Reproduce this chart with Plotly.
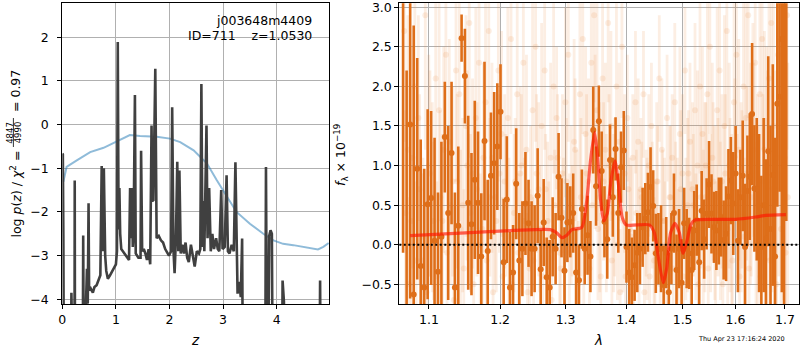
import numpy as np
import plotly.graph_objects as go

# ---------------- left panel: redshift probability ----------------
z_pz = [0.000, 0.010, 0.020, 0.035, 0.150, 0.170, 0.190, 0.225, 0.232, 0.240,
        0.375, 0.390, 0.400, 0.410, 0.440, 0.460, 0.475, 0.490, 0.500, 0.530,
        0.570, 0.600, 0.640, 0.680, 0.710, 0.735, 0.750, 0.775, 0.800, 0.820,
        0.850, 0.890, 0.930, 0.970, 1.000, 1.020, 1.035, 1.050, 1.065, 1.080,
        1.100, 1.130, 1.160, 1.190, 1.220, 1.245, 1.265, 1.280, 1.300, 1.315,
        1.330, 1.355, 1.370, 1.390, 1.420, 1.460, 1.470, 1.490, 1.520, 1.550,
        1.580, 1.610, 1.640, 1.665, 1.680, 1.700, 1.735, 1.760, 1.800, 1.840,
        1.880, 1.920, 1.960, 1.990, 2.030, 2.050, 2.075, 2.095, 2.120, 2.145,
        2.165, 2.185, 2.210, 2.240, 2.270, 2.300, 2.330, 2.360, 2.400, 2.440,
        2.470, 2.510, 2.550, 2.575, 2.595, 2.615, 2.630, 2.650, 2.690, 2.710,
        2.740, 2.770, 2.800, 2.830, 2.870, 2.900, 2.930, 2.965, 2.990, 3.030,
        3.065, 3.090, 3.120, 3.160, 3.200, 3.230, 3.255, 3.270, 3.300, 3.330,
        3.355, 3.380, 3.780, 3.800, 3.830, 3.860, 3.885, 3.910, 3.935, 4.090,
        4.110, 4.135, 4.160, 4.790, 4.810, 4.830, 4.970]
log_pz = [-0.66, -0.68, -2.60, -8.0, -8.0, -3.85, -8.0, -8.0, -1.28, -8.0,
          -8.0, -2.54, -2.85, -8.0, -4.2, -3.30, -4.1, -1.80, -3.80, -3.75,
          -3.85, -3.72, -3.68, -3.55, -3.45, -0.95, -2.90, -1.00, -3.00, -3.35,
          -3.53, -3.45, -3.35, -3.25, -3.20, -2.90, 1.89, -2.40, -1.45, -2.50,
          -2.85, -2.90, -2.95, -3.00, -3.05, -3.10, -1.45, -2.60, -1.45, -2.80,
          -2.50, 0.68, -2.95, -3.00, -3.05, -3.05, -0.60, -2.90, -2.85, -2.95,
          -3.10, -2.85, -3.20, -0.02, -1.75, -1.73, 1.28, -2.60, -2.55, -2.65,
          -2.70, -2.85, -2.95, -3.00, -2.90, 0.40, -2.90, -3.40, -2.60, -0.85,
          -2.90, -1.05, -2.95, -2.75, -2.95, -2.70, -3.05, -3.15, -2.75, -3.10,
          -3.25, -2.90, -2.95, -2.85, 0.93, -2.80, -1.75, -2.90, -0.02, -2.60,
          -1.45, -2.90, -2.50, -2.85, -2.60, -2.85, -2.90, -1.50, -2.85, -2.80,
          -1.16, -2.90, -2.95, -2.75, -2.90, -0.86, -3.00, -3.87, -3.60, -3.95,
          -2.61, -8.0, -8.0, -0.97, -8.0, -2.55, -2.42, -2.50, -8.0, -8.0,
          -3.57, -4.05, -8.0, -8.0, -3.57, -8.0, -8.0]

z_chi = [0.02, 0.08, 0.27, 0.52, 0.77, 0.98, 1.14, 1.26, 1.45, 1.76,
         2.01, 2.20, 2.45, 2.70, 2.88, 3.07, 3.25, 3.50, 3.75, 3.94,
         4.12, 4.31, 4.49, 4.71, 4.77, 4.87, 4.97]
chi_curve = [-1.31, -0.97, -0.82, -0.63, -0.53, -0.40, -0.30, -0.24, -0.26, -0.28,
             -0.32, -0.40, -0.59, -0.89, -1.27, -1.66, -2.00, -2.27, -2.50, -2.65,
             -2.73, -2.76, -2.80, -2.84, -2.86, -2.80, -2.71]

# ---------------- right panel: 1D spectrum ----------------
LAM0, DLAM, NPIX = 1.0657, 0.00465, 138

solid_flux = [
    3.40, -0.90,
    1.52, -0.63, 0.96, -0.27, -0.54, 0.51, 0.59, 0.05, -0.34, 0.10,
    1.36, 0.40, 1.16, -0.54, 0.24, 2.61, 2.13, 0.53, 0.26, 0.82,
    0.53, -0.15, 1.31, -0.08, 0.87, 1.03, 1.24, 1.68, -0.22, 0.57,
    -0.54, -0.35, 0.77, -0.20, -0.05, 0.52, 0.27, -0.05, -0.05, 0.62,
    -0.31, 0.28, -0.41, -0.54, 0.10, -0.05, 0.86, 0.34, -0.33, 0.28,
    0.29, 0.40, -0.35, -0.45, 0.45, -0.05, 0.12, -0.15, 1.45, 0.74,
    1.56, 0.93, 0.29, 0.07, 1.07, 0.60, 1.21, 0.40, 0.98, 1.19,
    -0.03, -0.35, -0.41, -0.26, -0.10, -0.05, 0.22, 0.33, 0.41, 0.73,
    0.49, -0.11, -0.05, -0.05, -0.51, -0.10, -0.60, -0.05, 0.40, -0.32,
    -0.05, -0.48, 0.27, -0.05, -0.11, -0.32, 0.18, 0.31, -0.22, 0.43,
    0.07, 0.39, 0.76, 0.39, 0.22, 0.18, 0.30, 0.35, 0.06, 0.14,
    0.61, 0.81, 0.52, 0.90, 0.05, 0.60, 0.87, -0.03, 0.68, 0.86,
    1.65, 0.71, 0.70, 0.40, -0.03, 0.50, 0.08, 1.18, 0.20, 0.88,
    -0.15, 1.78, 1.87, 2.60, 1.00, 3.60]
solid_err = [
    3.5, 3.1,
    2.2, 3.4, 1.4, 1.6, 1.5, 1.2, 1.1, 1.3, 1.0, 1.2,
    0.7, 1.1, 0.9, 1.2, 1.0, 0.3, 0.6, 1.1, 0.9, 1.0,
    0.9, 0.8, 1.0, 0.9, 0.8, 0.9, 0.8, 0.6, 0.8, 0.8,
    0.7, 0.6, 0.7, 0.6, 0.6, 0.65, 0.55, 0.6, 0.55, 0.6,
    0.5, 0.55, 0.5, 0.6, 0.5, 0.45, 0.55, 0.5, 0.55, 0.5,
    0.45, 0.5, 0.55, 0.45, 0.5, 0.45, 0.5, 0.45, 0.55, 0.5,
    0.45, 0.5, 0.45, 0.5, 0.45, 0.5, 0.4, 0.5, 0.45, 0.5,
    0.45, 0.55, 0.5, 0.45, 0.5, 0.45, 0.5, 0.45, 0.5, 0.5,
    0.45, 0.5, 0.45, 0.55, 0.5, 0.45, 0.5, 0.45, 0.5, 0.45,
    0.5, 0.55, 0.45, 0.5, 0.45, 0.55, 0.5, 0.45, 0.55, 0.5,
    0.5, 0.45, 0.55, 0.5, 0.45, 0.5, 0.55, 0.5, 0.5, 0.6,
    0.6, 0.55, 0.65, 0.6, 0.65, 0.6, 0.7, 0.8, 0.7, 0.8,
    0.9, 0.8, 0.9, 1.0, 0.9, 1.1, 1.0, 1.2, 1.3, 1.4,
    1.5, 1.3, 1.2, 3.2, 3.0, 3.3]

faintA_flux = [
    2.7, 1.2, 0.3, 2.0, 1.6, -0.2, 2.9, 1.0, 0.6, 2.1,
    1.7, 0.3, 2.4, 1.3, 0.8, 2.2, 1.9, 0.5, 1.5, 2.8,
    0.9, 1.6, 2.3, 0.2, 1.8, 2.7, 1.1, 0.6, 2.2, 1.4,
    0.8, 1.6, 2.6, 0.4, 1.9, 0.9, 2.3, 1.2, -0.3, 1.7,
    2.5, 0.7, 1.5, 2.2, 0.3, 1.1, 2.0, 1.6, -0.1, 0.9,
    1.8, 2.4, 0.5, 1.3, 0.2, 1.9, 2.6, 1.4, 0.8, 2.3,
    2.9, 1.7, 0.6, 2.1, 1.2, 2.8, 1.5, 0.4, 2.0, 1.3,
    2.5, 0.9, 1.6, 0.2, 1.1, 1.8, 1.3, 0.7, 1.9, 0.4,
    1.0, 1.5, -0.2, 0.8, 2.1, 1.2, 0.3, 1.6, 0.6, 1.1,
    1.8, 0.2, 1.4, 0.9, 2.2, 0.5, 1.3, 0.7, 1.7, 1.0,
    2.0, 1.4, 0.6, 1.9, 2.5, 1.1, 0.4, 1.7, 2.2, 0.8,
    1.5, 2.7, 1.0, 0.3, 1.8, 2.4, 1.2, 0.6, 2.0, 1.6,
    2.9, 0.9, 1.4, 2.3, 0.5, 1.9, 2.6, 1.2, 0.8, 2.1,
    2.8, 1.5, 0.7, 2.4, 1.8, 2.7, 1.1, 2.9]
faintA_err = [
    1.4, 1.7, 1.2, 1.5, 1.3, 1.1, 1.7, 1.4, 1.2, 1.6,
    1.4, 1.1, 1.5, 1.3, 1.2, 1.4, 1.6, 1.1, 1.4, 1.7,
    1.2, 1.4, 1.3, 1.1, 1.5, 1.4, 1.2, 1.1, 1.4, 1.3,
    1.1, 1.4, 1.2, 1.0, 1.4, 1.1, 1.3, 1.2, 1.0, 1.4,
    1.2, 1.1, 1.3, 1.0, 1.0, 1.2, 1.1, 0.9, 0.8, 1.0,
    1.2, 1.1, 1.0, 1.3, 1.0, 1.4, 1.2, 1.1, 1.3, 1.4,
    1.1, 1.4, 1.2, 1.3, 1.1, 1.0, 1.2, 1.0, 1.1, 1.0,
    0.9, 1.0, 0.8, 0.9, 0.8, 0.9, 0.8, 0.9, 0.8, 0.8,
    0.9, 0.8, 0.8, 1.0, 0.8, 0.9, 0.8, 0.8, 0.9, 0.8,
    1.0, 0.9, 1.1, 1.0, 0.8, 1.1, 1.0, 1.1, 1.1, 1.2,
    1.1, 1.1, 1.2, 1.3, 1.1, 1.2, 1.1, 1.3, 1.2, 1.1,
    1.4, 1.2, 1.3, 1.1, 1.4, 1.3, 1.4, 1.2, 1.4, 1.5,
    1.3, 1.4, 1.4, 1.5, 1.4, 1.6, 1.4, 1.5, 1.7, 1.4,
    1.6, 1.7, 1.5, 1.7, 1.8, 1.6, 1.9, 1.7]

faintB_flux = [
    0.4, -0.5, 1.1, -0.2, 0.7, 0.1, -0.6, 0.9, 0.3, -0.4,
    0.6, 1.2, -0.1, 0.5, -0.7, 0.8, 0.2, -0.3, 1.0, 0.4,
    -0.5, 0.7, 0.0, 1.1, -0.2, 0.6, -0.6, 0.3, 0.9, -0.4,
    0.5, 0.1, -0.5, 0.8, -0.1, 1.0, 0.3, -0.6, 0.6, -0.2,
    0.9, 0.2, -0.4, 0.7, 0.0, -0.7, 0.5, 1.1, -0.3, 0.4,
    0.8, -0.1, 0.3, 1.2, -0.5, 0.6, 0.1, 0.9, -0.3, 0.5,
    1.3, 0.2, -0.4, 0.8, 0.4, 1.0, -0.2, 0.6, 0.0, -0.6,
    0.3, -0.4, 0.7, 0.1, -0.5, 0.4, -0.2, 0.6, -0.6, 0.2,
    -0.4, 0.5, -0.1, 0.8, -0.5, 0.3, 0.0, -0.6, 0.6, -0.3,
    0.4, -0.1, 0.7, -0.4, 0.2, 0.9, -0.2, 0.5, 0.1, -0.5,
    0.6, 0.2, 1.0, -0.3, 0.4, 0.8, -0.1, 0.6, 0.3, -0.5,
    0.9, 0.2, 0.5, -0.2, 1.1, 0.4, -0.4, 0.7, 0.1, 0.9,
    -0.3, 0.6, 1.2, 0.0, 0.5, -0.4, 0.8, 0.3, 1.0, -0.2,
    0.7, 0.4, -0.5, 1.1, 0.2, 0.9, -0.1, 0.6]
faintB_err = [
    1.3, 1.1, 1.4, 1.0, 1.2, 1.0, 1.1, 1.3, 1.0, 1.2,
    1.1, 1.3, 1.0, 1.0, 1.2, 1.1, 1.0, 1.0, 1.2, 1.0,
    1.0, 1.1, 0.9, 1.2, 1.0, 1.0, 1.1, 0.9, 1.0, 1.0,
    0.9, 1.0, 1.0, 0.8, 1.0, 0.9, 0.8, 1.0, 0.9, 0.8,
    1.0, 0.8, 0.9, 0.7, 0.8, 0.9, 0.7, 0.8, 0.9, 0.7,
    0.8, 1.0, 0.7, 0.9, 0.8, 1.0, 0.9, 1.0, 0.8, 1.0,
    1.1, 0.9, 0.8, 1.0, 1.0, 0.9, 0.8, 1.0, 0.7, 0.8,
    0.9, 0.7, 0.8, 0.9, 0.7, 0.8, 0.9, 0.7, 0.8, 0.9,
    0.7, 0.8, 0.9, 0.7, 0.8, 0.9, 0.8, 0.7, 0.9, 0.8,
    0.9, 0.8, 1.0, 0.7, 0.9, 0.8, 1.0, 0.9, 0.8, 1.0,
    0.9, 1.0, 0.8, 0.9, 1.0, 1.0, 0.9, 1.0, 1.0, 0.9,
    1.0, 1.0, 1.1, 0.9, 1.0, 1.0, 1.1, 1.0, 1.0, 1.1,
    1.2, 1.0, 1.1, 1.3, 1.0, 1.2, 1.1, 1.3, 1.2, 1.4,
    1.3, 1.4, 1.4, 1.5, 1.4, 1.6, 1.5, 1.7]

lam_model = [1.075, 1.150, 1.220, 1.276, 1.286, 1.294, 1.302, 1.310, 1.326, 1.334,
             1.340, 1.347, 1.352, 1.357, 1.362, 1.368, 1.374, 1.381, 1.387, 1.393,
             1.400, 1.440, 1.449, 1.457, 1.465, 1.471, 1.478, 1.486, 1.494, 1.501,
             1.508, 1.515, 1.522, 1.560, 1.600, 1.640, 1.660, 1.702]
flux_model = [0.115, 0.150, 0.180, 0.190, 0.150, 0.090, 0.120, 0.190, 0.220, 0.550,
              1.050, 1.420, 1.100, 0.550, 0.300, 0.400, 0.800, 1.060, 0.750, 0.350,
              0.250, 0.250, 0.150, -0.200, -0.480, -0.300, 0.150, 0.270, 0.150, -0.110,
              0.050, 0.250, 0.310, 0.320, 0.320, 0.350, 0.370, 0.380]

lam_tick_vals = [1.1, 1.2, 1.3, 1.4, 1.5, 1.6, 1.7]
lam_tick_text = ["1.1", "1.2", "1.3", "1.4", "1.5", "1.6", "1.7"]

# pixel grids of the three extracted spectra
lam_solid = LAM0 + DLAM * np.arange(NPIX)
lam_faintA = lam_solid + 0.0015
lam_faintB = lam_solid + 0.0031

FONT = "DejaVu Sans"
ORANGE = "rgb(222,110,25)"
FAINT = "rgba(232,140,70,0.15)"

W, H = 800, 350
def px_x(p):
    return p / W
def px_y(p):
    return 1 - p / H

fig = go.Figure()

# left panel
fig.add_trace(go.Scatter(x=z_chi, y=chi_curve, mode="lines",
                         line=dict(color="rgba(31,119,180,0.5)", width=2),
                         xaxis="x", yaxis="y", showlegend=False, hoverinfo="skip"))
fig.add_trace(go.Scatter(x=z_pz, y=log_pz, mode="lines",
                         line=dict(color="rgb(64,64,64)", width=2.6),
                         xaxis="x", yaxis="y", showlegend=False, hoverinfo="skip"))

# right panel
for lam, flux, err in [(lam_faintA, faintA_flux, faintA_err),
                       (lam_faintB, faintB_flux, faintB_err)]:
    fig.add_trace(go.Scatter(
        x=lam, y=flux, mode="markers",
        marker=dict(color=FAINT, size=6, line=dict(width=0)),
        error_y=dict(type="data", array=err, color=FAINT, thickness=2.8, width=0),
        xaxis="x2", yaxis="y2", showlegend=False, hoverinfo="skip", cliponaxis=True))

fig.add_trace(go.Scatter(
    x=lam_solid, y=solid_flux, mode="markers",
    marker=dict(color=ORANGE, size=6, line=dict(width=0)),
    error_y=dict(type="data", array=solid_err, color=ORANGE, thickness=2.6, width=0),
    xaxis="x2", yaxis="y2", showlegend=False, hoverinfo="skip", cliponaxis=True))

fig.add_trace(go.Scatter(x=lam_model, y=flux_model, mode="lines",
                         line=dict(color="rgba(255,20,0,0.65)", width=3.2, shape="spline", smoothing=0.6),
                         xaxis="x2", yaxis="y2", showlegend=False, hoverinfo="skip"))

axis_common = dict(showline=True, linecolor="black", linewidth=1, mirror=True,
                   showgrid=True, gridcolor="#b0b0b0", gridwidth=1, zeroline=False,
                   ticks="outside", ticklen=4, tickwidth=1, tickcolor="black",
                   automargin=False, ticklabeloverflow="allow",
                   tickfont=dict(family=FONT, size=12.5, color="black"))

fig.update_layout(
    width=W, height=H, margin=dict(l=0, r=0, t=0, b=0),
    paper_bgcolor="white", plot_bgcolor="white",
    xaxis=dict(domain=[px_x(62.3), px_x(329)], range=[0, 4.976],
               tickvals=[0, 1, 2, 3, 4], anchor="y", **axis_common),
    yaxis=dict(domain=[px_y(304), px_y(3.3)], range=[-4.108, 2.779],
               tickvals=[-4, -3, -2, -1, 0, 1, 2], anchor="x", ticklabelstandoff=6, **axis_common),
    xaxis2=dict(domain=[px_x(399.3), px_x(799)], type="log",
                range=[np.log10(1.0608), np.log10(1.7294)],
                tickvals=lam_tick_vals, ticktext=lam_tick_text, anchor="y2", **axis_common),
    yaxis2=dict(domain=[px_y(304), px_y(3.3)], range=[-0.749, 3.05],
                tickvals=[-0.5, 0, 0.5, 1.0, 1.5, 2.0, 2.5, 3.0], tickformat=".1f",
                anchor="x2", **axis_common),
)

# dotted zero level
fig.add_shape(type="line", xref="x2 domain", yref="y2", x0=0, x1=1, y0=0, y1=0,
              line=dict(color="black", width=2, dash="2px,2.5px"))

def ann(text, x, y, size=12.5, xanchor="center", yanchor="middle", angle=0):
    fig.add_annotation(text=text, x=px_x(x), y=px_y(y), xref="paper", yref="paper",
                       showarrow=False, xanchor=xanchor, yanchor=yanchor, textangle=angle,
                       font=dict(family=FONT, size=size, color="black"))

# panel texts
ann("j003648m4409", 313.5, 20.7, xanchor="right")
ann("ID=711\u00a0\u00a0\u00a0\u00a0z=1.0530", 313.5, 35.2, xanchor="right")

# axis titles
ann("<i>z</i>", 195, 340, size=13.5)
ann("<i>λ</i>", 598, 340, size=13.5)
ann("log\u00a0<i>p</i>(<i>z</i>)\u00a0/\u00a0<i>χ</i><sup>2</sup>\u00a0=", 15, 240,
    size=12.5, yanchor="bottom", angle=-90)
ann("4847", 9.3, 132.5, size=8.5, angle=-90)
ann("4990", 17.8, 132.5, size=8.5, angle=-90)
fig.add_shape(type="line", xref="paper", yref="paper", x0=px_x(13.4), x1=px_x(13.4),
              y0=px_y(118), y1=px_y(147), line=dict(color="black", width=0.8))
ann("=\u00a00.97", 15, 68, size=12.5, yanchor="top", angle=-90)
ann("<i>f</i><sub>λ</sub>\u00a0×\u00a010<sup>−19</sup>", 341, 155, size=12.5, angle=-90)

# timestamp
ann("Thu Apr 23 17:16:24 2020", 787, 339, size=6.5, xanchor="right")

fig.write_html("out.html")
